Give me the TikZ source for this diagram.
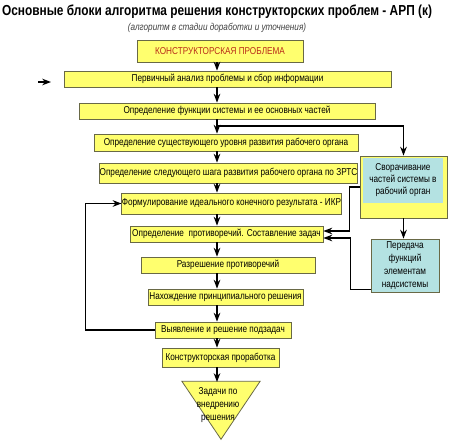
\documentclass[tikz,border=0pt]{standalone}
\usepackage{fontspec}
\setmainfont[FakeStretch=0.82]{Liberation Sans}
\usepackage{xcolor}
\usepackage{tikz}
\usetikzlibrary{arrows.meta,shapes.geometric}
\definecolor{blockfill}{RGB}{255, 255, 110}
\definecolor{blockline}{RGB}{105, 105, 70}
\definecolor{bluefill}{RGB}{180, 226, 226}
\definecolor{probtext}{RGB}{185, 45, 25}

\begin{document}
\begin{tikzpicture}[x=1pt, y=-1pt, >=Stealth,
    blk/.style={draw=blockline, fill=blockfill, line width=0.8pt, inner sep=0pt,
      font=\fontsize{10}{12}\selectfont},
    bluebox/.style={blk, fill=bluefill, align=center},
    link/.style={->, line width=1.3pt}]
  \useasboundingbox (0,0) rectangle (450,442);

  % Title
  \node[font=\bfseries\fontsize{14.5}{16}\selectfont] (title) at (217,12)
    {Основные блоки алгоритма решения конструкторских проблем - АРП (к)};
  \node[font=\itshape\fontsize{10}{12}\selectfont, text=black!75] (subtitle) at (217,28)
    {(алгоритм в стадии доработки и уточнения)};

  % Main column
  \coordinate (axis) at (217,0);
  \node[blk, minimum width=166pt, minimum height=22pt, text=probtext] (prob) at (220,51)
    {КОНСТРУКТОРСКАЯ ПРОБЛЕМА};
  \node[blk, minimum width=327pt, minimum height=16pt] (analiz) at (227.5,79)
    {Первичный анализ проблемы и сбор информации};
  \node[blk, minimum width=296pt, minimum height=16pt] (funk) at (227,111)
    {Определение функции системы и ее основных частей};
  \node[blk, minimum width=264pt, minimum height=17pt] (uroven) at (226,142.5)
    {Определение существующего уровня развития рабочего органа};
  \node[blk, minimum width=247pt, minimum height=20pt] (shag) at (228.5,173)
    {Определение следующего шага развития рабочего органа по ЗРТС};
  \node[blk, minimum width=217pt, minimum height=21pt] (ikr) at (231.5,203.5)
    {Формулирование идеального конечного результата - ИКР};
  \node[blk, minimum width=193pt, minimum height=16pt] (protiv) at (226.5,234)
    {Определение\ \ противоречий. Составление задач};
  \node[blk, minimum width=174pt, minimum height=16pt] (razresh) at (228,265)
    {Разрешение противоречий};
  \node[blk, minimum width=155pt, minimum height=16pt] (princip) at (225.5,297)
    {Нахождение принципиального решения};
  \node[blk, minimum width=136pt, minimum height=16pt] (podzad) at (223,330)
    {Выявление и решение подзадач};
  \node[blk, minimum width=117pt, minimum height=19pt] (prorab) at (220.5,357.5)
    {Конструкторская проработка};
  \node[blk, isosceles triangle, isosceles triangle apex angle=68, shape border rotate=-90,
    minimum height=58pt, anchor=apex] (zadachi) at (221,440) {};
  \node[font=\fontsize{10}{13}\selectfont, align=center] (zadtext) at (218,405)
    {Задачи по\\внедрению\\решения};

  % Side blocks
  \node[blk, minimum width=87pt, minimum height=62pt] (svor) at (403.5,187) {};
  \node[bluebox, draw=none, minimum width=80pt, minimum height=45pt] (svorin) at (403,180.5)
    {Сворачивание\\частей системы в\\рабочий орган};
  \node[bluebox, minimum width=68pt, minimum height=53pt,
    font=\fontsize{10}{13}\selectfont] (peredacha) at (405,265.5)
    {Передача\\функций\\элементам\\надсистемы};

  % Arrows down the column
  \foreach \a/\b in {prob/analiz, analiz/funk, funk/uroven, uroven/shag, shag/ikr,
      ikr/protiv, protiv/razresh, razresh/princip, princip/podzad, podzad/prorab}
    \draw[link] (\a.south -| axis) -- (\b.north -| axis);
  \draw[link] (prorab.south -| axis) -- (axis |- 0,382);

  % Side links
  \coordinate (branch) at (217,126);
  \draw[link] (branch) -| (svor.north);
  \draw[link] (svor.west) -- ++(-10,0) |- ([yshift=3pt]protiv.east);
  \draw[link] (svor.south) -- (svor.south |- peredacha.north);
  \draw[link] ([yshift=-24pt]peredacha.west) -- ++(-20,0) |- ([yshift=-4pt]protiv.east);
  \draw[link] (podzad.west) -- ++(-69,0) |- (ikr.west);

  % Entry arrow
  \coordinate (inA) at (38,82);
  \coordinate (inB) at (51,82);
  \draw[link] (inA) -- (inB);
\end{tikzpicture}
\end{document}
